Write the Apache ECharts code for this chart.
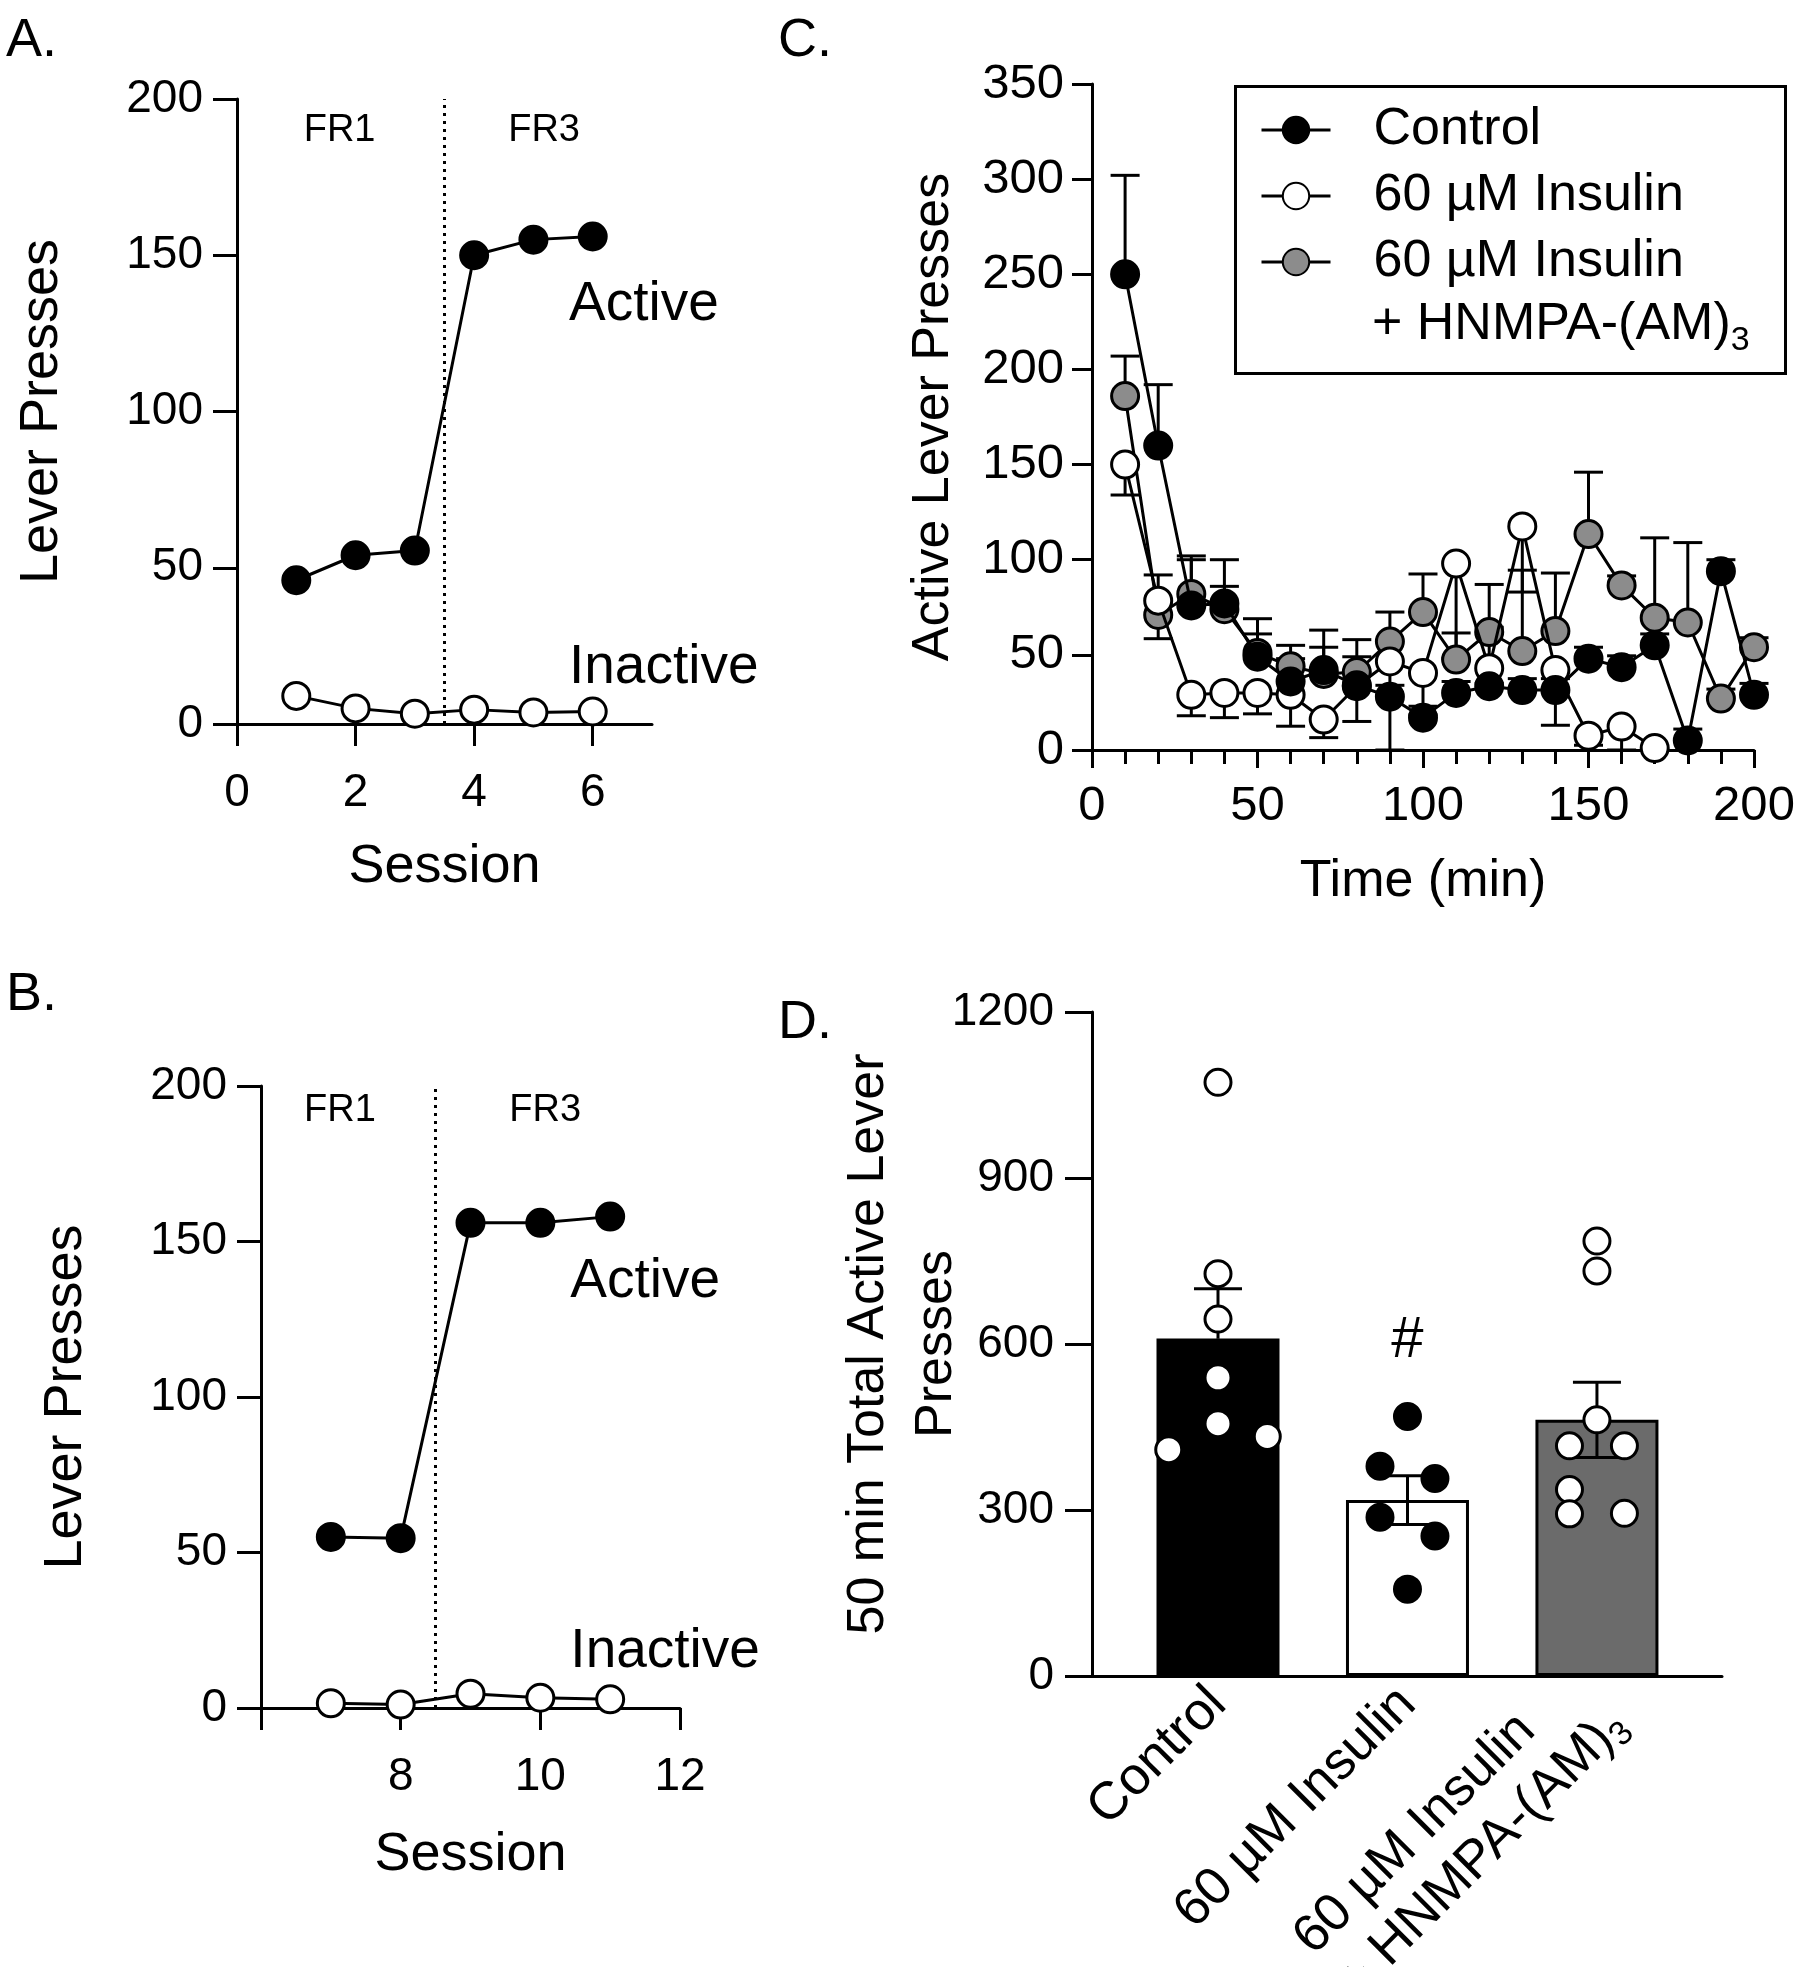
<!DOCTYPE html>
<html><head><meta charset="utf-8">
<script src="https://cdn.jsdelivr.net/npm/echarts@6/dist/echarts.min.js"></script>
<style>html,body{margin:0;padding:0;background:#fff}#c{width:1800px;height:1967px}</style>
</head><body><div id="c"></div>
<script>
// ---------- Panel A ----------
const sessionsA = [1, 2, 3, 4, 5, 6];
const activeA = [46, 54, 55.5, 150, 155, 156];
const inactiveA = [9, 5, 3.3, 4.6, 3.7, 4];
const phaseSplitA = 3.5;
const xTicksA = [0, 2, 4, 6];
// ---------- Panel B ----------
const sessionsB = [7, 8, 9, 10, 11];
const activeB = [55, 54.6, 156, 156, 158];
const inactiveB = [1.5, 1.1, 4.6, 3.3, 2.8];
const phaseSplitB = 8.5;
const xTicksB = [6, 8, 10, 12];
const xLabelsB = [8, 10, 12];
// text annotations in data units: [x, y, text]
const notesA = [[1.73, 190, 'FR1'], [5.18, 190, 'FR3']];
const groupLabelsA = [[5.6, 134, 'Active'], [5.6, 18, 'Inactive']];
const notesB = [[7.13, 192, 'FR1'], [10.07, 192, 'FR3']];
const groupLabelsB = [[10.43, 137, 'Active'], [10.43, 18, 'Inactive']];
// ---------- Panel C ----------
const timeC = [10, 20, 30, 40, 50, 60, 70, 80, 90, 100, 110, 120, 130, 140, 150, 160, 170, 180, 190, 200];
const controlC =    [250, 160, 76, 77, 49, 36, 42, 34, 28, 17, 30, 33.5, 31.5, 31.5, 48, 43.5, 55, 5, 94, 29];
const controlErrC = [52, 32, 26, 23, 20, 12, 21, 15, 6, 6, 6, 31, 6, 6, 6, 6, 6, 6, 6, 6];
const insulinC =    [150, 78.5, 29, 30, 30, 29, 16, 33.5, 46.5, 40.5, 98, 43, 117.5, 42, 7.5, 12.3, 1];
const insulinErrC = [16, 20, 11, 13, 11, 16.5, 9.5, 18.5, 46.5, 22, 50, 8, 34.5, 29, 5, 12.3, 1];
const hnmpaC =      [186, 71, 82, 74, 51, 44, 40, 41, 57, 72.5, 47.5, 62, 52, 62.5, 113.5, 86.5, 69.5, 67, 27, 54];
const hnmpaErrC =   [21, 21, 18, 12, 10, 11, 14, 17, 15.5, 20, 14, 25, 42.5, 30.5, 32.5, 5, 42, 42, 5, 5];
const seriesNamesC = ['Control', '60 µM Insulin', '60 µM Insulin + HNMPA-(AM)3'];
// ---------- Panel D ----------
const groupsD = ['Control', '60 µM Insulin', '60 µM Insulin + HNMPA-(AM)3'];
const meansD = [610, 318, 463];
const semD = [90, 44, 68];
const pointsD = [
  [1073, 727, 645, 539, 456, 409, 433],
  [469, 379, 357, 287, 253, 157],
  [786, 732, 463, 416, 416, 337, 293, 294]
];
const jitterD = [
  [0, 0, 0, 0, 0, -0.26, 0.26],
  [0, -0.145, 0.145, -0.145, 0.145, 0],
  [0, 0, 0, -0.145, 0.145, -0.145, -0.145, 0.145]
];
const sigD = [[1, 605, '#']];

// ---------- styling ----------
const FONT = 'Liberation Sans';
const BLACK = '#000';
const GRAY_C = '#8c8c8c';
const GRAY_D = '#6b6b6b';
const LW = 3;

const chart = echarts.init(document.getElementById('c'), null, {renderer: 'canvas'});

function errSeries(name, xIdx, yIdx, data, dir, cap, z) {
  return {
    type: 'custom', name: name, xAxisIndex: xIdx, yAxisIndex: yIdx, z: z, silent: true,
    data: data,
    renderItem: function (params, api) {
      const x = api.value(0), y = api.value(1), e = api.value(2);
      const p0 = api.coord([x, y]);
      const ends = dir === 'up' ? [y + e] : dir === 'down' ? [y - e] : [y + e, y - e];
      const children = [];
      ends.forEach(function (ye) {
        const p1 = api.coord([x, ye]);
        children.push({type: 'line', shape: {x1: p0[0], y1: p0[1], x2: p1[0], y2: p1[1]}, style: {stroke: BLACK, lineWidth: LW}});
        children.push({type: 'line', shape: {x1: p1[0] - cap / 2, y1: p1[1], x2: p1[0] + cap / 2, y2: p1[1]}, style: {stroke: BLACK, lineWidth: LW}});
      });
      return {type: 'group', children: children};
    }
  };
}

function lineSeries(name, xIdx, yIdx, xs, ys, fill, z) {
  return {
    type: 'line', name: name, xAxisIndex: xIdx, yAxisIndex: yIdx, z: z,
    data: ys.map(function (v, i) { return [xs[i], v]; }),
    symbol: 'circle', symbolSize: 27, showSymbol: true, showAllSymbol: true,
    lineStyle: {color: BLACK, width: LW},
    itemStyle: {color: fill, borderColor: BLACK, borderWidth: LW, opacity: 1},
    emphasis: {disabled: true}, animation: false
  };
}

function textSeries(xIdx, yIdx, notes, size, align) {
  return {
    type: 'scatter', xAxisIndex: xIdx, yAxisIndex: yIdx, silent: true, z: 1,
    symbolSize: 0, itemStyle: {opacity: 1},
    data: notes.map(function (n) { return {value: [n[0], n[1]], name: n[2]}; }),
    label: {show: true, position: 'inside', formatter: '{b}', color: BLACK,
      fontFamily: FONT, fontSize: size, align: align, verticalAlign: 'middle'},
    animation: false
  };
}

function dottedSplit(xIdx, yIdx, xv) {
  return {
    type: 'line', xAxisIndex: xIdx, yAxisIndex: yIdx, data: [], silent: true,
    markLine: {silent: true, symbol: 'none', animation: false,
      label: {show: false},
      lineStyle: {color: BLACK, width: 3, type: [3, 5]},
      data: [[{coord: [xv, 0]}, {coord: [xv, 200]}]]}
  };
}

const axisLine = {show: true, onZero: false, lineStyle: {color: BLACK, width: LW}};
const tickStyle = {color: BLACK, width: LW};
const plainNum = function (v) { return String(v); };

function baseX(gi, min, max, ticks, labels, size, extra) {
  return Object.assign({
    type: 'value', gridIndex: gi, min: min, max: max,
    axisLine: axisLine, splitLine: {show: false},
    axisTick: {show: true, length: 22, lineStyle: tickStyle, customValues: ticks},
    axisLabel: {color: BLACK, fontFamily: FONT, fontSize: size, margin: 46, customValues: labels, formatter: plainNum},
    nameTextStyle: {color: BLACK, fontFamily: FONT, fontSize: 54},
    nameLocation: 'middle'
  }, extra || {});
}
function baseY(gi, min, max, interval, size, extra) {
  return Object.assign({
    type: 'value', gridIndex: gi, min: min, max: max, interval: interval,
    axisLine: axisLine, splitLine: {show: false},
    axisTick: {show: true, length: 24, lineStyle: tickStyle},
    axisLabel: {color: BLACK, fontFamily: FONT, fontSize: size, margin: 34, formatter: plainNum},
    nameTextStyle: {color: BLACK, fontFamily: FONT, fontSize: 54},
    nameLocation: 'middle'
  }, extra || {});
}

const option = {
  animation: false,
  backgroundColor: '#fff',
  textStyle: {fontFamily: FONT, color: BLACK},
  grid: [
    {left: 237, top: 99, width: 415, height: 625, outerBoundsMode: 'none', containLabel: false},
    {left: 261, top: 1086, width: 419, height: 622, outerBoundsMode: 'none', containLabel: false},
    {left: 1092, top: 84, width: 662, height: 666, outerBoundsMode: 'none', containLabel: false},
    {left: 1092, top: 1012, width: 630, height: 664, outerBoundsMode: 'none', containLabel: false}
  ],
  xAxis: [
    baseX(0, 0, 7, xTicksA, xTicksA, 46, {name: 'Session', nameGap: 116}),
    baseX(1, 6, 12, xTicksB, xLabelsB, 46, {name: 'Session', nameGap: 120}),
    baseX(2, 0, 200, [0, 50, 100, 150, 200], [0, 50, 100, 150, 200], 49, {
      name: 'Time (min)', nameGap: 106,
      nameTextStyle: {color: BLACK, fontFamily: FONT, fontSize: 52},
      axisTick: {show: true, length: 18, lineStyle: tickStyle},
      minorTick: {show: true, splitNumber: 5, length: 14, lineStyle: tickStyle},
      interval: 50,
      axisLabel: {color: BLACK, fontFamily: FONT, fontSize: 49, margin: 32, formatter: plainNum}
    }),
    {
      type: 'value', gridIndex: 3, min: -0.665, max: 2.66,
      axisLine: axisLine, splitLine: {show: false}, axisTick: {show: false},
      axisLabel: {
        color: BLACK, fontFamily: FONT, fontSize: 53, rotate: 45, margin: 20,
        customValues: [0, 1, 2],
        formatter: function (v) {
          const name = groupsD[Math.round(v)];
          if (name.indexOf('+') > 0) {
            const parts = name.split(' + ');
            return '{n|' + parts[0] + '}\n{n|+ ' + parts[1].slice(0, -1) + '}{s|' + parts[1].slice(-1) + '}';
          }
          return '{n|' + name + '}';
        },
        rich: {
          n: {fontFamily: FONT, fontSize: 53, color: BLACK, align: 'left', lineHeight: 62},
          s: {fontFamily: FONT, fontSize: 34, color: BLACK, align: 'left', lineHeight: 34, verticalAlign: 'bottom'}
        }
      }
    }
  ],
  yAxis: [
    baseY(0, 0, 200, 50, 46, {name: 'Lever Presses', nameGap: 168}),
    baseY(1, 0, 200, 50, 46, {name: 'Lever Presses', nameGap: 168}),
    baseY(2, 0, 350, 50, 49, {name: 'Active Lever Presses', nameGap: 132,
      nameTextStyle: {color: BLACK, fontFamily: FONT, fontSize: 52},
      axisTick: {show: true, length: 20, lineStyle: tickStyle},
      axisLabel: {color: BLACK, fontFamily: FONT, fontSize: 49, margin: 28, formatter: plainNum}}),
    baseY(3, 0, 1200, 300, 46, {name: '50 min Total Active Lever\nPresses', nameGap: 121,
      nameMoveOverlap: false,
      nameTextStyle: {color: BLACK, fontFamily: FONT, fontSize: 52, lineHeight: 68},
      axisTick: {show: true, length: 27, lineStyle: tickStyle},
      axisLabel: {color: BLACK, fontFamily: FONT, fontSize: 46, margin: 38, formatter: plainNum}})
  ],
  legend: {
    show: true, orient: 'vertical', left: 1260, top: 104, padding: 0, itemGap: 14,
    itemWidth: 69, itemHeight: 33,
    data: seriesNamesC,
    selectedMode: false,
    lineStyle: {width: LW, color: BLACK},
    formatter: function (name) { return name === seriesNamesC[2] ? '60 µM Insulin' : name; },
    textStyle: {fontFamily: FONT, fontSize: 52, color: BLACK, padding: [0, 0, 0, 38]}
  },
  graphic: [
    {type: 'rect', left: 1233, top: 84, shape: {width: 550, height: 287}, style: {fill: 'none', stroke: BLACK, lineWidth: LW}, z: 100},
    {type: 'text', left: 1372, top: 299, z: 100, style: {
      text: '{n|+ HNMPA-(AM)}{s|3}',
      rich: {n: {fontFamily: FONT, fontSize: 52, fill: BLACK, lineHeight: 66},
             s: {fontFamily: FONT, fontSize: 34, fill: BLACK, lineHeight: 34, verticalAlign: 'bottom'}}
    }},
    {type: 'text', left: 6, top: 14, style: {text: 'A.', font: '54px "Liberation Sans"', fill: BLACK}},
    {type: 'text', left: 6, top: 968, style: {text: 'B.', font: '54px "Liberation Sans"', fill: BLACK}},
    {type: 'text', left: 778, top: 14, style: {text: 'C.', font: '54px "Liberation Sans"', fill: BLACK}},
    {type: 'text', left: 778, top: 996, style: {text: 'D.', font: '54px "Liberation Sans"', fill: BLACK}}
  ],
  series: [
    // Panel A
    dottedSplit(0, 0, phaseSplitA),
    lineSeries('A active', 0, 0, sessionsA, activeA, BLACK, 3),
    lineSeries('A inactive', 0, 0, sessionsA, inactiveA, '#fff', 3),
    textSeries(0, 0, notesA, 38, 'center'),
    textSeries(0, 0, groupLabelsA, 55, 'left'),
    // Panel B
    dottedSplit(1, 1, phaseSplitB),
    lineSeries('B active', 1, 1, sessionsB, activeB, BLACK, 3),
    lineSeries('B inactive', 1, 1, sessionsB, inactiveB, '#fff', 3),
    textSeries(1, 1, notesB, 38, 'center'),
    textSeries(1, 1, groupLabelsB, 55, 'left'),
    // Panel C
    errSeries('errC2', 2, 2, hnmpaC.map(function (v, i) { return [timeC[i], v, hnmpaErrC[i]]; }), 'up', 29, 1),
    errSeries('errC1', 2, 2, insulinC.map(function (v, i) { return [timeC[i], v, insulinErrC[i]]; }), 'down', 29, 1),
    errSeries('errC0', 2, 2, controlC.map(function (v, i) { return [timeC[i], v, controlErrC[i]]; }), 'up', 29, 1),
    lineSeries(seriesNamesC[2], 2, 2, timeC, hnmpaC, GRAY_C, 3),
    lineSeries(seriesNamesC[1], 2, 2, timeC, insulinC, '#fff', 4),
    lineSeries(seriesNamesC[0], 2, 2, timeC, controlC, BLACK, 5),
    // Panel D
    {
      type: 'bar', xAxisIndex: 3, yAxisIndex: 3, barWidth: 123, z: 1,
      data: meansD.map(function (v, i) {
        return {value: [i, v], itemStyle: {color: [BLACK, '#fff', GRAY_D][i]}};
      }),
      itemStyle: {borderColor: BLACK, borderWidth: LW, opacity: 1}, animation: false
    },
    errSeries('errD', 3, 3, meansD.map(function (v, i) { return [i, v, semD[i]]; }), 'both', 48, 2),
    {
      type: 'scatter', xAxisIndex: 3, yAxisIndex: 3, z: 3, symbolSize: 26, animation: false,
      data: [].concat.apply([], pointsD.map(function (arr, g) {
        return arr.map(function (v, k) {
          return {value: [g + jitterD[g][k], v], itemStyle: {color: g === 1 ? BLACK : '#fff'}};
        });
      })),
      itemStyle: {borderColor: BLACK, borderWidth: LW, opacity: 1}
    },
    {
      type: 'scatter', xAxisIndex: 3, yAxisIndex: 3, symbolSize: 0, z: 3, silent: true,
      itemStyle: {opacity: 1},
      data: sigD.map(function (s) { return {value: [s[0], s[1]], name: s[2]}; }),
      label: {show: true, position: 'inside', formatter: '{b}', color: BLACK, fontFamily: FONT, fontSize: 58}
    }
  ]
};
chart.setOption(option);
</script>
</body></html>
